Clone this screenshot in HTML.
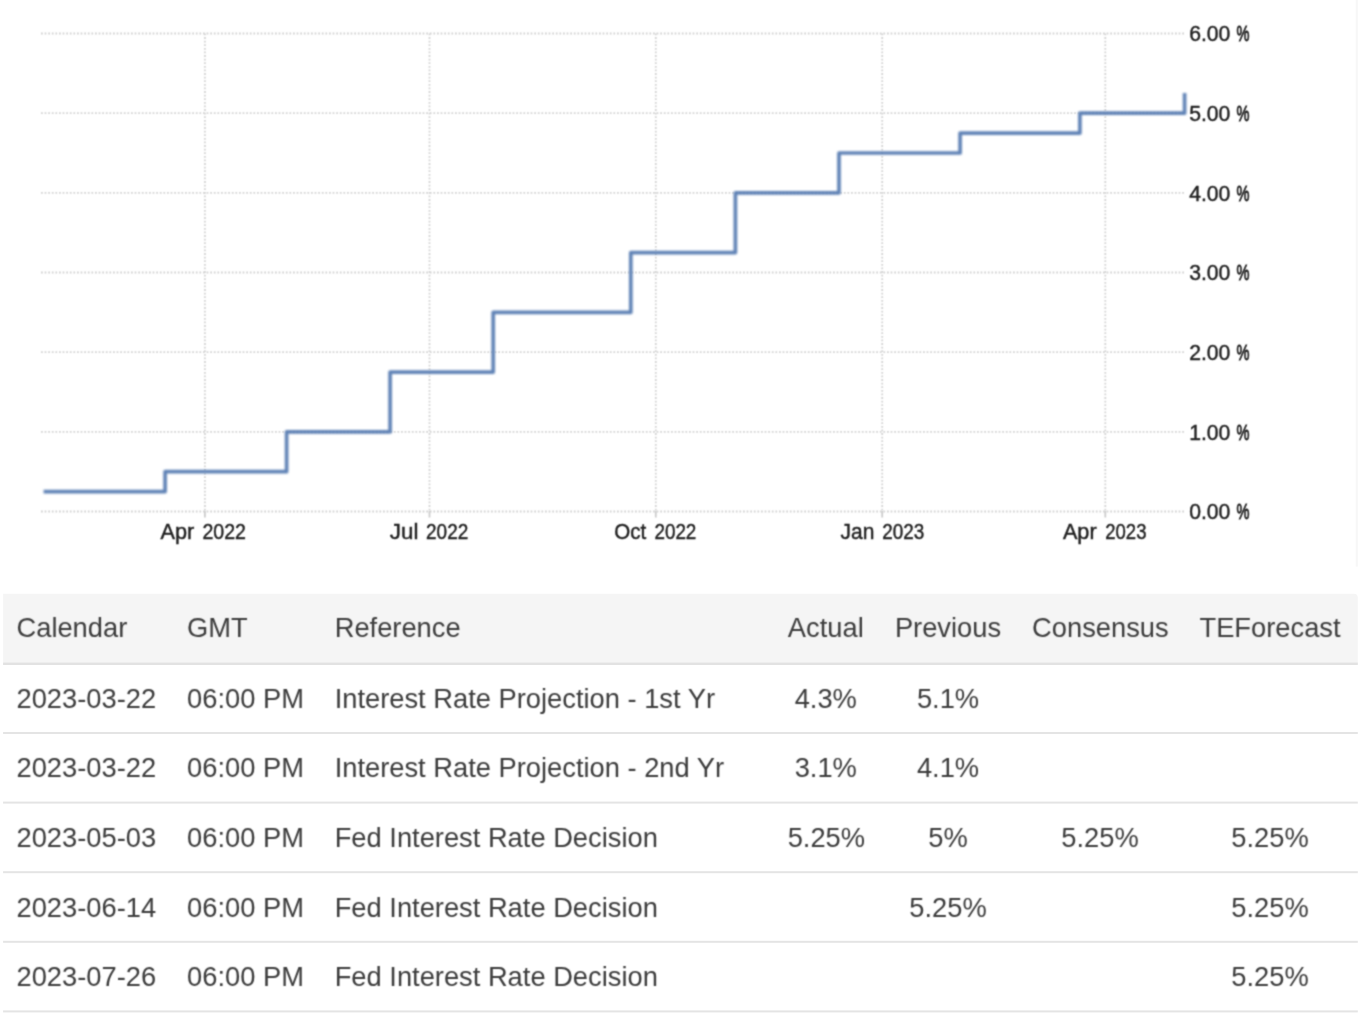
<!DOCTYPE html>
<html><head><meta charset="utf-8">
<style>
html,body{margin:0;padding:0;background:#fff;}
body{width:1370px;height:1020px;overflow:hidden;position:relative;font-family:"Liberation Sans",sans-serif;}
#chart{position:absolute;left:0;top:0;}
.bl{filter:blur(0.8px);}
.tb{filter:blur(0.45px);}
#tbg{position:absolute;left:0;top:580px;}
table{position:absolute;left:3.1px;top:593.4px;width:1354.7px;border-collapse:separate;border-spacing:0;table-layout:fixed;font-size:27.3px;color:#3c3c3c;filter:url(#ft);}
th,td{padding:0 14.4px 0 13.4px;white-space:nowrap;font-weight:normal;text-align:left;height:69.6px;line-height:30px;vertical-align:middle;}
th{height:70.6px;padding-bottom:2.0px;box-sizing:border-box;}
.c{text-align:center;padding:0 14.4px;}
th.c{padding-bottom:2.0px;}
tr>:nth-child(5),tr>:nth-child(6){padding-left:15.8px;}
</style></head><body>
<svg id="chart" width="1370" height="580" viewBox="0 0 1370 580">
<defs><filter id="fb" x="-5%" y="-5%" width="110%" height="110%" color-interpolation-filters="sRGB"><feGaussianBlur stdDeviation="0.8"/></filter><filter id="ft" x="-2%" y="-2%" width="104%" height="104%" color-interpolation-filters="sRGB"><feConvolveMatrix order="3" kernelMatrix="0.05 0.11 0.05 0.11 0.36 0.11 0.05 0.11 0.05" divisor="1" preserveAlpha="false"/></filter></defs>
<rect x="1355.7" y="0" width="2.1" height="566.6" fill="#f7f7f7"/>
<g filter="url(#ft)" stroke="#d4d4d4" stroke-width="1.8" stroke-dasharray="1.8 1.8" fill="none">
<path d="M41 33.5H1184M41 113.2H1184M41 192.8H1184M41 272.5H1184M41 352.2H1184M41 431.8H1184M41 511.5H1184"/>
<path d="M204.9 33.5V511M429.5 33.5V511M655.8 33.5V511M882.2 33.5V511M1105.3 33.5V511"/>
<path d="M204.9 511V517.4M429.5 511V517.4M655.8 511V517.4M882.2 511V517.4M1105.3 511V517.4" stroke-dasharray="none" stroke="#cdcdcd"/>
</g>
<g filter="url(#fb)">
<path d="M43.6 491.6H165.1V471.7H286.6V431.8H390.1V372.1H493.2V312.3H630.8V252.6H735.4V192.8H839V153H960.1V133.1H1079.9V113.2H1184.6V93" fill="none" stroke="#6083b6" stroke-width="3.7" stroke-linejoin="round"/>
</g>
<g filter="url(#ft)" font-family="Liberation Sans, sans-serif" font-size="22" fill="#1e1e1e" stroke="#1e1e1e" stroke-width="0.45">
<text x="160.44" y="539.2" textLength="33.76" lengthAdjust="spacingAndGlyphs">Apr</text><text x="202.41" y="539.2" textLength="43.57" lengthAdjust="spacingAndGlyphs">2022</text>
<text x="389.83" y="539.2" textLength="28.52" lengthAdjust="spacingAndGlyphs">Jul</text><text x="426.03" y="539.2" textLength="42.23" lengthAdjust="spacingAndGlyphs">2022</text>
<text x="614.27" y="539.2" textLength="31.94" lengthAdjust="spacingAndGlyphs">Oct</text><text x="654.43" y="539.2" textLength="41.92" lengthAdjust="spacingAndGlyphs">2022</text>
<text x="840.57" y="539.2" textLength="33.79" lengthAdjust="spacingAndGlyphs">Jan</text><text x="882.33" y="539.2" textLength="42.02" lengthAdjust="spacingAndGlyphs">2023</text>
<text x="1062.94" y="539.2" textLength="33.66" lengthAdjust="spacingAndGlyphs">Apr</text><text x="1105.24" y="539.2" textLength="41.2" lengthAdjust="spacingAndGlyphs">2023</text>
<text x="1189.17" y="41.2" textLength="41.18" lengthAdjust="spacingAndGlyphs">6.00</text><text stroke-width="0.9" x="1236.43" y="41.2" textLength="12.95" lengthAdjust="spacingAndGlyphs">%</text>
<text x="1189.17" y="120.9" textLength="41.18" lengthAdjust="spacingAndGlyphs">5.00</text><text stroke-width="0.9" x="1236.43" y="120.9" textLength="12.95" lengthAdjust="spacingAndGlyphs">%</text>
<text x="1189.17" y="200.5" textLength="41.18" lengthAdjust="spacingAndGlyphs">4.00</text><text stroke-width="0.9" x="1236.43" y="200.5" textLength="12.95" lengthAdjust="spacingAndGlyphs">%</text>
<text x="1189.17" y="280.2" textLength="41.18" lengthAdjust="spacingAndGlyphs">3.00</text><text stroke-width="0.9" x="1236.43" y="280.2" textLength="12.95" lengthAdjust="spacingAndGlyphs">%</text>
<text x="1189.17" y="359.9" textLength="41.18" lengthAdjust="spacingAndGlyphs">2.00</text><text stroke-width="0.9" x="1236.43" y="359.9" textLength="12.95" lengthAdjust="spacingAndGlyphs">%</text>
<text x="1189.17" y="439.5" textLength="41.18" lengthAdjust="spacingAndGlyphs">1.00</text><text stroke-width="0.9" x="1236.43" y="439.5" textLength="12.95" lengthAdjust="spacingAndGlyphs">%</text>
<text x="1189.17" y="519.2" textLength="41.18" lengthAdjust="spacingAndGlyphs">0.00</text><text stroke-width="0.9" x="1236.43" y="519.2" textLength="12.95" lengthAdjust="spacingAndGlyphs">%</text>
</g>
</svg>
<svg id="tbg" width="1370" height="440" viewBox="0 580 1370 440">
<path d="M3.1 593.7H1353.8Q1357.8 593.7 1357.8 597.7V663.8H3.1Z" fill="#f5f5f5"/>
<rect x="3.1" y="662.6" width="1354.7" height="2.4" fill="#e2e2e2"/>
<g fill="#e4e4e4">
<rect x="3.1" y="732" width="1354.7" height="2"/>
<rect x="3.1" y="801.6" width="1354.7" height="2"/>
<rect x="3.1" y="871.2" width="1354.7" height="2"/>
<rect x="3.1" y="940.8" width="1354.7" height="2"/>
<rect x="3.1" y="1010.4" width="1354.7" height="2"/>
</g>
</svg>
<table>
<colgroup><col style="width:170.6px"><col style="width:147.6px"><col style="width:452px"><col style="width:105px"><col style="width:138px"><col style="width:166px"><col></colgroup>
<thead><tr><th>Calendar</th><th>GMT</th><th>Reference</th><th class="c">Actual</th><th class="c">Previous</th><th class="c">Consensus</th><th class="c">TEForecast</th></tr></thead>
<tbody>
<tr><td>2023-03-22</td><td>06:00 PM</td><td>Interest Rate Projection - 1st Yr</td><td class=c>4.3%</td><td class=c>5.1%</td><td class=c></td><td class=c></td></tr>
<tr><td>2023-03-22</td><td>06:00 PM</td><td>Interest Rate Projection - 2nd Yr</td><td class=c>3.1%</td><td class=c>4.1%</td><td class=c></td><td class=c></td></tr>
<tr><td>2023-05-03</td><td>06:00 PM</td><td>Fed Interest Rate Decision</td><td class=c>5.25%</td><td class=c>5%</td><td class=c>5.25%</td><td class=c>5.25%</td></tr>
<tr><td>2023-06-14</td><td>06:00 PM</td><td>Fed Interest Rate Decision</td><td class=c></td><td class=c>5.25%</td><td class=c></td><td class=c>5.25%</td></tr>
<tr><td>2023-07-26</td><td>06:00 PM</td><td>Fed Interest Rate Decision</td><td class=c></td><td class=c></td><td class=c></td><td class=c>5.25%</td></tr>
</tbody>
</table>
</body></html>
